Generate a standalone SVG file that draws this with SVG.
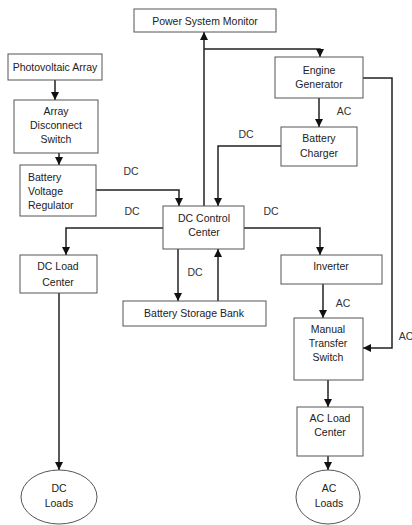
<svg xmlns="http://www.w3.org/2000/svg" width="412" height="525" viewBox="0 0 412 525">
<defs>
<marker id="arr" viewBox="0 0 8 8" refX="8" refY="4" markerWidth="8" markerHeight="8" markerUnits="userSpaceOnUse" orient="auto">
<path d="M0,0 L8,4 L0,8 Z" fill="#111"/>
</marker>
<style>
.box{fill:#fff;stroke:#555;stroke-width:1}
.t{font-family:"Liberation Sans",Arial,sans-serif;font-size:10.5px;fill:#222;text-anchor:middle}
.ts{font-family:"Liberation Sans",Arial,sans-serif;font-size:10.5px;fill:#222;text-anchor:start}
.l{font-family:"Liberation Sans",Arial,sans-serif;font-size:10.5px;fill:#333;text-anchor:middle}
.c{fill:none;stroke:#222;stroke-width:1.5;marker-end:url(#arr)}
</style>
</defs>
<rect width="412" height="525" fill="#fff"/>
<g id="connectors">
<path class="c" d="M55,80 V100"/>
<path class="c" d="M59,153 V165"/>
<path class="c" d="M96,190 H179 V206"/>
<path class="c" d="M204,206 V32"/>
<path class="c" d="M204,49 H320 V57"/>
<path class="c" d="M319,98 V127"/>
<path class="c" d="M281,146 H218 V206"/>
<path class="c" d="M363,78 H392 V348 H363"/>
<path class="c" d="M163,228 H66 V255"/>
<path class="c" d="M59,293 V470"/>
<path class="c" d="M178,249 V301"/>
<path class="c" d="M218,301 V249"/>
<path class="c" d="M244,228 H320 V255"/>
<path class="c" d="M323,284 V318"/>
<path class="c" d="M328,380 V407"/>
<path class="c" d="M328,456 V470"/>
<text class="l" x="131" y="175">DC</text>
<text class="l" x="246" y="138">DC</text>
<text class="l" x="344" y="115">AC</text>
<text class="l" x="132" y="215">DC</text>
<text class="l" x="195" y="276">DC</text>
<text class="l" x="271" y="215">DC</text>
<text class="l" x="343" y="307">AC</text>
<text class="l" x="406" y="340">AC</text>
</g>
<g id="psm"><rect class="box" x="134" y="9" width="142" height="23"/><text class="t" x="205" y="25">Power System Monitor</text></g>
<g id="pv"><rect class="box" x="8" y="54" width="94" height="26"/><text class="t" x="55" y="71">Photovoltaic Array</text></g>
<g id="ads"><rect class="box" x="14" y="100" width="84" height="53"/><text class="t" x="56" y="115">Array</text><text class="t" x="56" y="129">Disconnect</text><text class="t" x="56" y="143">Switch</text></g>
<g id="bvr"><rect class="box" x="20" y="165" width="76" height="51"/><text class="ts" x="28" y="181">Battery</text><text class="ts" x="28" y="195">Voltage</text><text class="ts" x="28" y="209">Regulator</text></g>
<g id="eg"><rect class="box" x="275" y="57" width="88" height="41"/><text class="t" x="319" y="74">Engine</text><text class="t" x="319" y="88">Generator</text></g>
<g id="bc"><rect class="box" x="281" y="127" width="76" height="39"/><text class="t" x="319" y="142">Battery</text><text class="t" x="319" y="157">Charger</text></g>
<g id="dccc"><rect class="box" x="163" y="206" width="81" height="43"/><text class="t" x="204" y="222">DC Control</text><text class="t" x="204" y="236">Center</text></g>
<g id="dclc"><rect class="box" x="20" y="255" width="77" height="38"/><text class="t" x="58" y="270">DC Load</text><text class="t" x="58" y="286">Center</text></g>
<g id="bsb"><rect class="box" x="123" y="301" width="143" height="25"/><text class="t" x="194" y="317">Battery Storage Bank</text></g>
<g id="inv"><rect class="box" x="281" y="255" width="101" height="29"/><text class="t" x="331" y="270">Inverter</text></g>
<g id="mts"><rect class="box" x="294" y="318" width="69" height="62"/><text class="t" x="328" y="333">Manual</text><text class="t" x="328" y="347">Transfer</text><text class="t" x="328" y="361">Switch</text></g>
<g id="aclc"><rect class="box" x="297" y="407" width="66" height="49"/><text class="t" x="330" y="422">AC Load</text><text class="t" x="330" y="436">Center</text></g>
<g id="dcloads"><ellipse class="box" cx="59" cy="497" rx="38" ry="27"/><text class="t" x="59" y="492">DC</text><text class="t" x="59" y="507">Loads</text></g>
<g id="acloads"><ellipse class="box" cx="328" cy="497" rx="32" ry="27"/><text class="t" x="329" y="492">AC</text><text class="t" x="329" y="507">Loads</text></g>
</svg>
